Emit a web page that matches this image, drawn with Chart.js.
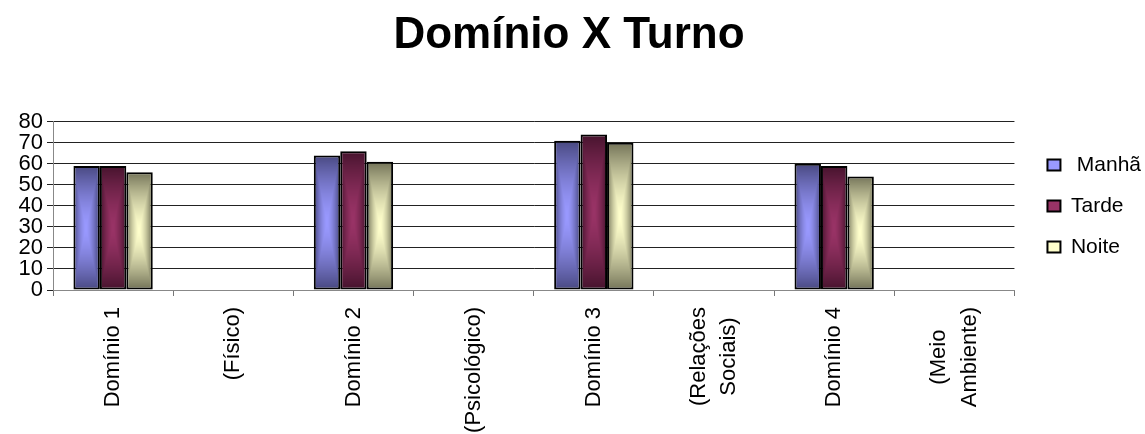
<!DOCTYPE html>
<html>
<head>
<meta charset="utf-8">
<script src="https://cdn.jsdelivr.net/npm/chart.js@4/dist/chart.umd.min.js"></script>
<style>
  html, body { margin: 0; padding: 0; background: #fff; }
  #wrap { width: 1145px; height: 434px; }
</style>
</head>
<body>
<div id="wrap"><canvas id="chart"></canvas></div>
<script>
// Domínio X Turno - grouped bars, Excel style shading

const categories = [
  'Domínio 1', '(Físico)', 'Domínio 2', '(Psicológico)',
  'Domínio 3', ['(Relações', 'Sociais)'], 'Domínio 4', ['(Meio', 'Ambiente)']
];
const seriesNames = [' Manhã', 'Tarde', 'Noite'];
const manha = [59, null, 64, null, 71, null, 60, null];
const tarde = [59, null, 66, null, 74, null, 59, null];
const noite = [56, null, 61, null, 70, null, 54, null];
const yTicks = [0, 10, 20, 30, 40, 50, 60, 70, 80];

const FONT = "'Liberation Sans', Arial, sans-serif";

function hex(c) {
  return [1, 3, 5].map(i => parseInt(c.slice(i, i + 2), 16));
}

// rectangular "from centre" gradient like the old Excel fill
function shadedFill(ctx, left, top, w, h, inner, outer) {
  const a = hex(inner), b = hex(outer);
  const c = document.createElement('canvas');
  c.width = w; c.height = h;
  const g = c.getContext('2d');
  const img = g.createImageData(w, h);
  for (let y = 0; y < h; y++) {
    const dy = Math.abs(y + 0.5 - h / 2) / (h / 2);
    for (let x = 0; x < w; x++) {
      const dx = Math.abs(x + 0.5 - w / 2) / (w / 2);
      const t = Math.pow(Math.max(dx, dy), 1.5);
      const k = (y * w + x) * 4;
      img.data[k] = a[0] + (b[0] - a[0]) * t;
      img.data[k + 1] = a[1] + (b[1] - a[1]) * t;
      img.data[k + 2] = a[2] + (b[2] - a[2]) * t;
      img.data[k + 3] = 255;
    }
  }
  g.putImageData(img, 0, 0);
  const p = ctx.createPattern(c, 'no-repeat');
  p.setTransform(new DOMMatrix([1, 0, 0, 1, left, top]));
  return p;
}

const barShading = {
  id: 'barShading',
  beforeDatasetsDraw(chart) {
    chart.data.datasets.forEach((ds, i) => {
      chart.getDatasetMeta(i).data.forEach(bar => {
        if (!bar.options || isNaN(bar.y) || isNaN(bar.base)) return;
        const left = Math.round(bar.x - bar.width / 2);
        const top = Math.round(Math.min(bar.y, bar.base));
        const w = Math.max(1, Math.round(bar.width));
        const h = Math.max(1, Math.round(Math.abs(bar.base - bar.y)));
        bar.options.backgroundColor = shadedFill(chart.ctx, left, top, w, h, ds.inner, ds.outer);
      });
    });
  }
};

// centre the two-line rotated labels on their category, lines centred on each other
const labelTweak = {
  id: 'labelTweak',
  afterLayout(chart) {
    chart.legend.left += 13;
    chart.legend.right += 13;
  },
  beforeDraw(chart) {
    const sc = chart.scales.x;
    const items = sc.getLabelItems(chart.chartArea);
    const ctx = chart.ctx;
    items.forEach(it => {
      if (!Array.isArray(it.label) || it.options._done) return;
      ctx.save();
      ctx.font = it.font.string;
      const maxW = Math.max(...it.label.map(s => ctx.measureText(s).width));
      ctx.restore();
      const n = it.label.length;
      const [tx, ty] = it.options.translation;
      it.options.translation = [tx - it.font.lineHeight * (n - 1) / 2, ty + maxW / 2];
      it.options.textAlign = 'center';
      it.options._done = true;
    });
  }
};

function series(label, data, inner, outer) {
  return {
    label, data, inner, outer,
    backgroundColor: (c) => c.dataset.inner,
    borderColor: '#000',
    borderWidth: 2,
    borderSkipped: false,
    categoryPercentage: 0.66,
    barPercentage: 1.0
  };
}

new Chart(document.getElementById('chart').getContext('2d'), {
  type: 'bar',
  data: {
    labels: categories,
    datasets: [
      series(seriesNames[0], manha, '#9999ff', '#484880'),
      series(seriesNames[1], tarde, '#993366', '#46132d'),
      series(seriesNames[2], noite, '#ffffcc', '#737358')
    ]
  },
  plugins: [barShading, labelTweak],
  options: {
    responsive: true,
    maintainAspectRatio: false,
    animation: false,
    devicePixelRatio: 1,
    layout: { padding: { right: 7 } },
    plugins: {
      title: {
        display: true,
        text: 'Domínio X Turno',
        color: '#000',
        font: { family: FONT, size: 44, weight: 'bold' },
        padding: { top: 9, bottom: 60 }
      },
      legend: {
        position: 'right',
        fullSize: false,
        labels: {
          boxWidth: 13,
          boxHeight: 11,
          padding: 20,
          color: '#000',
          font: { family: FONT, size: 21 }
        }
      },
      tooltip: { enabled: false }
    },
    scales: {
      x: {
        ticks: {
          minRotation: 90, maxRotation: 90, autoSkip: false,
          color: '#000', padding: 11,
          font: { family: FONT, size: 22, lineHeight: 1.4 }
        },
        grid: { drawOnChartArea: false, offset: true, tickLength: 6, color: '#777' },
        border: { color: '#888' },
        afterFit(s) { s.height = 144; }
      },
      y: {
        min: 0, max: 80,
        afterBuildTicks(s) { s.ticks = yTicks.map(v => ({ value: v })); },
        ticks: {
          autoSkip: false, color: '#000', padding: 4,
          font: { family: FONT, size: 22 }
        },
        grid: { color: '#222', tickLength: 6 },
        border: { color: '#888' },
        afterFit(s) { s.width = 53; }
      }
    }
  }
});
</script>
</body>
</html>
